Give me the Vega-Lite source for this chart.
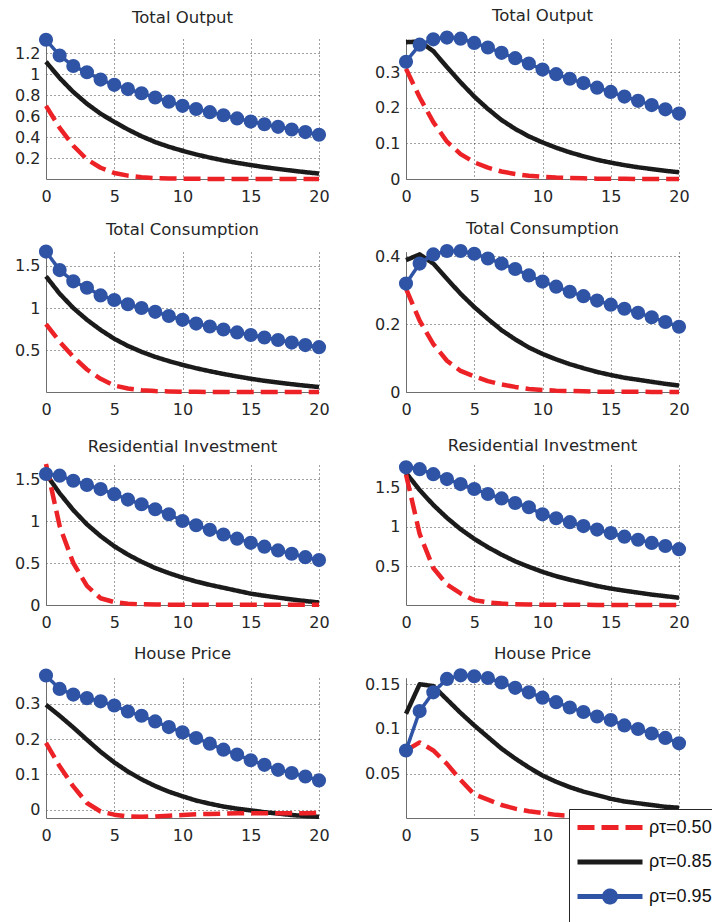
{
"$schema":"https://vega.github.io/schema/vega-lite/v6.json",
"background":"white",
"padding":{"left":14,"top":8,"right":0,"bottom":0},
"columns":2,
"spacing":{"row":73,"column":87},
"bounds":"flush",
"data":{"values":[
{"p":1,"s":"0.85","t":0,"v":1.12},{"p":1,"s":"0.85","t":1,"v":0.965},{"p":1,"s":"0.85","t":2,"v":0.832},{"p":1,"s":"0.85","t":3,"v":0.72},{"p":1,"s":"0.85","t":4,"v":0.625},{"p":1,"s":"0.85","t":5,"v":0.547},{"p":1,"s":"0.85","t":6,"v":0.475},{"p":1,"s":"0.85","t":7,"v":0.41},{"p":1,"s":"0.85","t":8,"v":0.355},{"p":1,"s":"0.85","t":9,"v":0.31},{"p":1,"s":"0.85","t":10,"v":0.272},{"p":1,"s":"0.85","t":11,"v":0.237},{"p":1,"s":"0.85","t":12,"v":0.207},{"p":1,"s":"0.85","t":13,"v":0.18},{"p":1,"s":"0.85","t":14,"v":0.157},{"p":1,"s":"0.85","t":15,"v":0.136},{"p":1,"s":"0.85","t":16,"v":0.116},{"p":1,"s":"0.85","t":17,"v":0.099},{"p":1,"s":"0.85","t":18,"v":0.083},{"p":1,"s":"0.85","t":19,"v":0.068},{"p":1,"s":"0.85","t":20,"v":0.055},
{"p":1,"s":"0.50","t":0,"v":0.7},{"p":1,"s":"0.50","t":1,"v":0.49},{"p":1,"s":"0.50","t":2,"v":0.32},{"p":1,"s":"0.50","t":3,"v":0.19},{"p":1,"s":"0.50","t":4,"v":0.11},{"p":1,"s":"0.50","t":5,"v":0.06},{"p":1,"s":"0.50","t":6,"v":0.035},{"p":1,"s":"0.50","t":7,"v":0.02},{"p":1,"s":"0.50","t":8,"v":0.012},{"p":1,"s":"0.50","t":9,"v":0.008},{"p":1,"s":"0.50","t":10,"v":0.006},{"p":1,"s":"0.50","t":11,"v":0.005},{"p":1,"s":"0.50","t":12,"v":0.004},{"p":1,"s":"0.50","t":13,"v":0.004},{"p":1,"s":"0.50","t":14,"v":0.003},{"p":1,"s":"0.50","t":15,"v":0.003},{"p":1,"s":"0.50","t":16,"v":0.003},{"p":1,"s":"0.50","t":17,"v":0.003},{"p":1,"s":"0.50","t":18,"v":0.003},{"p":1,"s":"0.50","t":19,"v":0.003},{"p":1,"s":"0.50","t":20,"v":0.003},
{"p":1,"s":"0.95","t":0,"v":1.33},{"p":1,"s":"0.95","t":1,"v":1.18},{"p":1,"s":"0.95","t":2,"v":1.08},{"p":1,"s":"0.95","t":3,"v":1.02},{"p":1,"s":"0.95","t":4,"v":0.95},{"p":1,"s":"0.95","t":5,"v":0.9},{"p":1,"s":"0.95","t":6,"v":0.86},{"p":1,"s":"0.95","t":7,"v":0.82},{"p":1,"s":"0.95","t":8,"v":0.78},{"p":1,"s":"0.95","t":9,"v":0.74},{"p":1,"s":"0.95","t":10,"v":0.7},{"p":1,"s":"0.95","t":11,"v":0.67},{"p":1,"s":"0.95","t":12,"v":0.64},{"p":1,"s":"0.95","t":13,"v":0.61},{"p":1,"s":"0.95","t":14,"v":0.58},{"p":1,"s":"0.95","t":15,"v":0.55},{"p":1,"s":"0.95","t":16,"v":0.525},{"p":1,"s":"0.95","t":17,"v":0.5},{"p":1,"s":"0.95","t":18,"v":0.475},{"p":1,"s":"0.95","t":19,"v":0.45},{"p":1,"s":"0.95","t":20,"v":0.425},
{"p":2,"s":"0.85","t":0,"v":0.385},{"p":2,"s":"0.85","t":1,"v":0.387},{"p":2,"s":"0.85","t":2,"v":0.36},{"p":2,"s":"0.85","t":3,"v":0.315},{"p":2,"s":"0.85","t":4,"v":0.272},{"p":2,"s":"0.85","t":5,"v":0.232},{"p":2,"s":"0.85","t":6,"v":0.197},{"p":2,"s":"0.85","t":7,"v":0.166},{"p":2,"s":"0.85","t":8,"v":0.141},{"p":2,"s":"0.85","t":9,"v":0.12},{"p":2,"s":"0.85","t":10,"v":0.103},{"p":2,"s":"0.85","t":11,"v":0.088},{"p":2,"s":"0.85","t":12,"v":0.075},{"p":2,"s":"0.85","t":13,"v":0.064},{"p":2,"s":"0.85","t":14,"v":0.054},{"p":2,"s":"0.85","t":15,"v":0.046},{"p":2,"s":"0.85","t":16,"v":0.039},{"p":2,"s":"0.85","t":17,"v":0.033},{"p":2,"s":"0.85","t":18,"v":0.028},{"p":2,"s":"0.85","t":19,"v":0.023},{"p":2,"s":"0.85","t":20,"v":0.019},
{"p":2,"s":"0.50","t":0,"v":0.31},{"p":2,"s":"0.50","t":1,"v":0.23},{"p":2,"s":"0.50","t":2,"v":0.16},{"p":2,"s":"0.50","t":3,"v":0.105},{"p":2,"s":"0.50","t":4,"v":0.07},{"p":2,"s":"0.50","t":5,"v":0.047},{"p":2,"s":"0.50","t":6,"v":0.032},{"p":2,"s":"0.50","t":7,"v":0.021},{"p":2,"s":"0.50","t":8,"v":0.014},{"p":2,"s":"0.50","t":9,"v":0.009},{"p":2,"s":"0.50","t":10,"v":0.006},{"p":2,"s":"0.50","t":11,"v":0.004},{"p":2,"s":"0.50","t":12,"v":0.003},{"p":2,"s":"0.50","t":13,"v":0.002},{"p":2,"s":"0.50","t":14,"v":0.001},{"p":2,"s":"0.50","t":15,"v":0.001},{"p":2,"s":"0.50","t":16,"v":0.001},{"p":2,"s":"0.50","t":17,"v":0},{"p":2,"s":"0.50","t":18,"v":0},{"p":2,"s":"0.50","t":19,"v":0},{"p":2,"s":"0.50","t":20,"v":0},
{"p":2,"s":"0.95","t":0,"v":0.33},{"p":2,"s":"0.95","t":1,"v":0.378},{"p":2,"s":"0.95","t":2,"v":0.393},{"p":2,"s":"0.95","t":3,"v":0.398},{"p":2,"s":"0.95","t":4,"v":0.395},{"p":2,"s":"0.95","t":5,"v":0.383},{"p":2,"s":"0.95","t":6,"v":0.37},{"p":2,"s":"0.95","t":7,"v":0.355},{"p":2,"s":"0.95","t":8,"v":0.34},{"p":2,"s":"0.95","t":9,"v":0.325},{"p":2,"s":"0.95","t":10,"v":0.308},{"p":2,"s":"0.95","t":11,"v":0.295},{"p":2,"s":"0.95","t":12,"v":0.282},{"p":2,"s":"0.95","t":13,"v":0.27},{"p":2,"s":"0.95","t":14,"v":0.257},{"p":2,"s":"0.95","t":15,"v":0.245},{"p":2,"s":"0.95","t":16,"v":0.232},{"p":2,"s":"0.95","t":17,"v":0.22},{"p":2,"s":"0.95","t":18,"v":0.208},{"p":2,"s":"0.95","t":19,"v":0.196},{"p":2,"s":"0.95","t":20,"v":0.184},
{"p":3,"s":"0.85","t":0,"v":1.376},{"p":3,"s":"0.85","t":1,"v":1.17},{"p":3,"s":"0.85","t":2,"v":1.0},{"p":3,"s":"0.85","t":3,"v":0.86},{"p":3,"s":"0.85","t":4,"v":0.74},{"p":3,"s":"0.85","t":5,"v":0.635},{"p":3,"s":"0.85","t":6,"v":0.55},{"p":3,"s":"0.85","t":7,"v":0.48},{"p":3,"s":"0.85","t":8,"v":0.42},{"p":3,"s":"0.85","t":9,"v":0.37},{"p":3,"s":"0.85","t":10,"v":0.325},{"p":3,"s":"0.85","t":11,"v":0.285},{"p":3,"s":"0.85","t":12,"v":0.25},{"p":3,"s":"0.85","t":13,"v":0.217},{"p":3,"s":"0.85","t":14,"v":0.188},{"p":3,"s":"0.85","t":15,"v":0.16},{"p":3,"s":"0.85","t":16,"v":0.136},{"p":3,"s":"0.85","t":17,"v":0.115},{"p":3,"s":"0.85","t":18,"v":0.096},{"p":3,"s":"0.85","t":19,"v":0.078},{"p":3,"s":"0.85","t":20,"v":0.062},
{"p":3,"s":"0.50","t":0,"v":0.81},{"p":3,"s":"0.50","t":1,"v":0.6},{"p":3,"s":"0.50","t":2,"v":0.42},{"p":3,"s":"0.50","t":3,"v":0.27},{"p":3,"s":"0.50","t":4,"v":0.16},{"p":3,"s":"0.50","t":5,"v":0.08},{"p":3,"s":"0.50","t":6,"v":0.045},{"p":3,"s":"0.50","t":7,"v":0.025},{"p":3,"s":"0.50","t":8,"v":0.014},{"p":3,"s":"0.50","t":9,"v":0.009},{"p":3,"s":"0.50","t":10,"v":0.006},{"p":3,"s":"0.50","t":11,"v":0.005},{"p":3,"s":"0.50","t":12,"v":0.004},{"p":3,"s":"0.50","t":13,"v":0.004},{"p":3,"s":"0.50","t":14,"v":0.003},{"p":3,"s":"0.50","t":15,"v":0.003},{"p":3,"s":"0.50","t":16,"v":0.003},{"p":3,"s":"0.50","t":17,"v":0.003},{"p":3,"s":"0.50","t":18,"v":0.003},{"p":3,"s":"0.50","t":19,"v":0.003},{"p":3,"s":"0.50","t":20,"v":0.003},
{"p":3,"s":"0.95","t":0,"v":1.67},{"p":3,"s":"0.95","t":1,"v":1.45},{"p":3,"s":"0.95","t":2,"v":1.317},{"p":3,"s":"0.95","t":3,"v":1.24},{"p":3,"s":"0.95","t":4,"v":1.15},{"p":3,"s":"0.95","t":5,"v":1.095},{"p":3,"s":"0.95","t":6,"v":1.045},{"p":3,"s":"0.95","t":7,"v":1.0},{"p":3,"s":"0.95","t":8,"v":0.955},{"p":3,"s":"0.95","t":9,"v":0.905},{"p":3,"s":"0.95","t":10,"v":0.86},{"p":3,"s":"0.95","t":11,"v":0.815},{"p":3,"s":"0.95","t":12,"v":0.78},{"p":3,"s":"0.95","t":13,"v":0.745},{"p":3,"s":"0.95","t":14,"v":0.71},{"p":3,"s":"0.95","t":15,"v":0.68},{"p":3,"s":"0.95","t":16,"v":0.65},{"p":3,"s":"0.95","t":17,"v":0.62},{"p":3,"s":"0.95","t":18,"v":0.59},{"p":3,"s":"0.95","t":19,"v":0.56},{"p":3,"s":"0.95","t":20,"v":0.535},
{"p":4,"s":"0.85","t":0,"v":0.388},{"p":4,"s":"0.85","t":1,"v":0.405},{"p":4,"s":"0.85","t":2,"v":0.378},{"p":4,"s":"0.85","t":3,"v":0.333},{"p":4,"s":"0.85","t":4,"v":0.289},{"p":4,"s":"0.85","t":5,"v":0.25},{"p":4,"s":"0.85","t":6,"v":0.215},{"p":4,"s":"0.85","t":7,"v":0.182},{"p":4,"s":"0.85","t":8,"v":0.155},{"p":4,"s":"0.85","t":9,"v":0.131},{"p":4,"s":"0.85","t":10,"v":0.112},{"p":4,"s":"0.85","t":11,"v":0.096},{"p":4,"s":"0.85","t":12,"v":0.082},{"p":4,"s":"0.85","t":13,"v":0.07},{"p":4,"s":"0.85","t":14,"v":0.059},{"p":4,"s":"0.85","t":15,"v":0.05},{"p":4,"s":"0.85","t":16,"v":0.042},{"p":4,"s":"0.85","t":17,"v":0.036},{"p":4,"s":"0.85","t":18,"v":0.03},{"p":4,"s":"0.85","t":19,"v":0.024},{"p":4,"s":"0.85","t":20,"v":0.019},
{"p":4,"s":"0.50","t":0,"v":0.304},{"p":4,"s":"0.50","t":1,"v":0.21},{"p":4,"s":"0.50","t":2,"v":0.141},{"p":4,"s":"0.50","t":3,"v":0.092},{"p":4,"s":"0.50","t":4,"v":0.062},{"p":4,"s":"0.50","t":5,"v":0.046},{"p":4,"s":"0.50","t":6,"v":0.032},{"p":4,"s":"0.50","t":7,"v":0.022},{"p":4,"s":"0.50","t":8,"v":0.015},{"p":4,"s":"0.50","t":9,"v":0.009},{"p":4,"s":"0.50","t":10,"v":0.006},{"p":4,"s":"0.50","t":11,"v":0.004},{"p":4,"s":"0.50","t":12,"v":0.003},{"p":4,"s":"0.50","t":13,"v":0.002},{"p":4,"s":"0.50","t":14,"v":0.001},{"p":4,"s":"0.50","t":15,"v":0.001},{"p":4,"s":"0.50","t":16,"v":0.001},{"p":4,"s":"0.50","t":17,"v":0.001},{"p":4,"s":"0.50","t":18,"v":0},{"p":4,"s":"0.50","t":19,"v":0},{"p":4,"s":"0.50","t":20,"v":0},
{"p":4,"s":"0.95","t":0,"v":0.319},{"p":4,"s":"0.95","t":1,"v":0.378},{"p":4,"s":"0.95","t":2,"v":0.405},{"p":4,"s":"0.95","t":3,"v":0.415},{"p":4,"s":"0.95","t":4,"v":0.415},{"p":4,"s":"0.95","t":5,"v":0.407},{"p":4,"s":"0.95","t":6,"v":0.393},{"p":4,"s":"0.95","t":7,"v":0.378},{"p":4,"s":"0.95","t":8,"v":0.362},{"p":4,"s":"0.95","t":9,"v":0.343},{"p":4,"s":"0.95","t":10,"v":0.325},{"p":4,"s":"0.95","t":11,"v":0.31},{"p":4,"s":"0.95","t":12,"v":0.295},{"p":4,"s":"0.95","t":13,"v":0.282},{"p":4,"s":"0.95","t":14,"v":0.269},{"p":4,"s":"0.95","t":15,"v":0.257},{"p":4,"s":"0.95","t":16,"v":0.245},{"p":4,"s":"0.95","t":17,"v":0.233},{"p":4,"s":"0.95","t":18,"v":0.22},{"p":4,"s":"0.95","t":19,"v":0.206},{"p":4,"s":"0.95","t":20,"v":0.192},
{"p":5,"s":"0.85","t":0,"v":1.56},{"p":5,"s":"0.85","t":1,"v":1.33},{"p":5,"s":"0.85","t":2,"v":1.13},{"p":5,"s":"0.85","t":3,"v":0.96},{"p":5,"s":"0.85","t":4,"v":0.82},{"p":5,"s":"0.85","t":5,"v":0.7},{"p":5,"s":"0.85","t":6,"v":0.6},{"p":5,"s":"0.85","t":7,"v":0.515},{"p":5,"s":"0.85","t":8,"v":0.44},{"p":5,"s":"0.85","t":9,"v":0.38},{"p":5,"s":"0.85","t":10,"v":0.326},{"p":5,"s":"0.85","t":11,"v":0.28},{"p":5,"s":"0.85","t":12,"v":0.24},{"p":5,"s":"0.85","t":13,"v":0.205},{"p":5,"s":"0.85","t":14,"v":0.17},{"p":5,"s":"0.85","t":15,"v":0.135},{"p":5,"s":"0.85","t":16,"v":0.11},{"p":5,"s":"0.85","t":17,"v":0.088},{"p":5,"s":"0.85","t":18,"v":0.066},{"p":5,"s":"0.85","t":19,"v":0.047},{"p":5,"s":"0.85","t":20,"v":0.03},
{"p":5,"s":"0.50","t":0,"v":1.68},{"p":5,"s":"0.50","t":1,"v":0.94},{"p":5,"s":"0.50","t":2,"v":0.5},{"p":5,"s":"0.50","t":3,"v":0.227},{"p":5,"s":"0.50","t":4,"v":0.08},{"p":5,"s":"0.50","t":5,"v":0.035},{"p":5,"s":"0.50","t":6,"v":0.015},{"p":5,"s":"0.50","t":7,"v":0.008},{"p":5,"s":"0.50","t":8,"v":0.005},{"p":5,"s":"0.50","t":9,"v":0.004},{"p":5,"s":"0.50","t":10,"v":0.003},{"p":5,"s":"0.50","t":11,"v":0.003},{"p":5,"s":"0.50","t":12,"v":0.002},{"p":5,"s":"0.50","t":13,"v":0.002},{"p":5,"s":"0.50","t":14,"v":0.002},{"p":5,"s":"0.50","t":15,"v":0.002},{"p":5,"s":"0.50","t":16,"v":0.002},{"p":5,"s":"0.50","t":17,"v":0.002},{"p":5,"s":"0.50","t":18,"v":0.002},{"p":5,"s":"0.50","t":19,"v":0.002},{"p":5,"s":"0.50","t":20,"v":0.002},
{"p":5,"s":"0.95","t":0,"v":1.56},{"p":5,"s":"0.95","t":1,"v":1.54},{"p":5,"s":"0.95","t":2,"v":1.48},{"p":5,"s":"0.95","t":3,"v":1.43},{"p":5,"s":"0.95","t":4,"v":1.38},{"p":5,"s":"0.95","t":5,"v":1.32},{"p":5,"s":"0.95","t":6,"v":1.255},{"p":5,"s":"0.95","t":7,"v":1.2},{"p":5,"s":"0.95","t":8,"v":1.14},{"p":5,"s":"0.95","t":9,"v":1.08},{"p":5,"s":"0.95","t":10,"v":1.0},{"p":5,"s":"0.95","t":11,"v":0.95},{"p":5,"s":"0.95","t":12,"v":0.895},{"p":5,"s":"0.95","t":13,"v":0.84},{"p":5,"s":"0.95","t":14,"v":0.79},{"p":5,"s":"0.95","t":15,"v":0.74},{"p":5,"s":"0.95","t":16,"v":0.695},{"p":5,"s":"0.95","t":17,"v":0.65},{"p":5,"s":"0.95","t":18,"v":0.61},{"p":5,"s":"0.95","t":19,"v":0.57},{"p":5,"s":"0.95","t":20,"v":0.535},
{"p":6,"s":"0.85","t":0,"v":1.69},{"p":6,"s":"0.85","t":1,"v":1.47},{"p":6,"s":"0.85","t":2,"v":1.28},{"p":6,"s":"0.85","t":3,"v":1.115},{"p":6,"s":"0.85","t":4,"v":0.97},{"p":6,"s":"0.85","t":5,"v":0.847},{"p":6,"s":"0.85","t":6,"v":0.74},{"p":6,"s":"0.85","t":7,"v":0.645},{"p":6,"s":"0.85","t":8,"v":0.56},{"p":6,"s":"0.85","t":9,"v":0.49},{"p":6,"s":"0.85","t":10,"v":0.425},{"p":6,"s":"0.85","t":11,"v":0.37},{"p":6,"s":"0.85","t":12,"v":0.325},{"p":6,"s":"0.85","t":13,"v":0.285},{"p":6,"s":"0.85","t":14,"v":0.245},{"p":6,"s":"0.85","t":15,"v":0.212},{"p":6,"s":"0.85","t":16,"v":0.185},{"p":6,"s":"0.85","t":17,"v":0.16},{"p":6,"s":"0.85","t":18,"v":0.135},{"p":6,"s":"0.85","t":19,"v":0.115},{"p":6,"s":"0.85","t":20,"v":0.095},
{"p":6,"s":"0.50","t":0,"v":1.67},{"p":6,"s":"0.50","t":1,"v":0.91},{"p":6,"s":"0.50","t":2,"v":0.474},{"p":6,"s":"0.50","t":3,"v":0.263},{"p":6,"s":"0.50","t":4,"v":0.149},{"p":6,"s":"0.50","t":5,"v":0.064},{"p":6,"s":"0.50","t":6,"v":0.035},{"p":6,"s":"0.50","t":7,"v":0.02},{"p":6,"s":"0.50","t":8,"v":0.012},{"p":6,"s":"0.50","t":9,"v":0.008},{"p":6,"s":"0.50","t":10,"v":0.006},{"p":6,"s":"0.50","t":11,"v":0.005},{"p":6,"s":"0.50","t":12,"v":0.004},{"p":6,"s":"0.50","t":13,"v":0.004},{"p":6,"s":"0.50","t":14,"v":0.003},{"p":6,"s":"0.50","t":15,"v":0.003},{"p":6,"s":"0.50","t":16,"v":0.003},{"p":6,"s":"0.50","t":17,"v":0.003},{"p":6,"s":"0.50","t":18,"v":0.003},{"p":6,"s":"0.50","t":19,"v":0.003},{"p":6,"s":"0.50","t":20,"v":0.003},
{"p":6,"s":"0.95","t":0,"v":1.76},{"p":6,"s":"0.95","t":1,"v":1.737},{"p":6,"s":"0.95","t":2,"v":1.673},{"p":6,"s":"0.95","t":3,"v":1.61},{"p":6,"s":"0.95","t":4,"v":1.546},{"p":6,"s":"0.95","t":5,"v":1.483},{"p":6,"s":"0.95","t":6,"v":1.42},{"p":6,"s":"0.95","t":7,"v":1.363},{"p":6,"s":"0.95","t":8,"v":1.305},{"p":6,"s":"0.95","t":9,"v":1.25},{"p":6,"s":"0.95","t":10,"v":1.16},{"p":6,"s":"0.95","t":11,"v":1.11},{"p":6,"s":"0.95","t":12,"v":1.06},{"p":6,"s":"0.95","t":13,"v":1.01},{"p":6,"s":"0.95","t":14,"v":0.965},{"p":6,"s":"0.95","t":15,"v":0.92},{"p":6,"s":"0.95","t":16,"v":0.875},{"p":6,"s":"0.95","t":17,"v":0.835},{"p":6,"s":"0.95","t":18,"v":0.795},{"p":6,"s":"0.95","t":19,"v":0.755},{"p":6,"s":"0.95","t":20,"v":0.715},
{"p":7,"s":"0.85","t":0,"v":0.297},{"p":7,"s":"0.85","t":1,"v":0.266},{"p":7,"s":"0.85","t":2,"v":0.233},{"p":7,"s":"0.85","t":3,"v":0.198},{"p":7,"s":"0.85","t":4,"v":0.164},{"p":7,"s":"0.85","t":5,"v":0.134},{"p":7,"s":"0.85","t":6,"v":0.108},{"p":7,"s":"0.85","t":7,"v":0.086},{"p":7,"s":"0.85","t":8,"v":0.067},{"p":7,"s":"0.85","t":9,"v":0.051},{"p":7,"s":"0.85","t":10,"v":0.038},{"p":7,"s":"0.85","t":11,"v":0.026},{"p":7,"s":"0.85","t":12,"v":0.017},{"p":7,"s":"0.85","t":13,"v":0.009},{"p":7,"s":"0.85","t":14,"v":0.003},{"p":7,"s":"0.85","t":15,"v":-0.002},{"p":7,"s":"0.85","t":16,"v":-0.007},{"p":7,"s":"0.85","t":17,"v":-0.011},{"p":7,"s":"0.85","t":18,"v":-0.015},{"p":7,"s":"0.85","t":19,"v":-0.018},{"p":7,"s":"0.85","t":20,"v":-0.02},
{"p":7,"s":"0.50","t":0,"v":0.189},{"p":7,"s":"0.50","t":1,"v":0.123},{"p":7,"s":"0.50","t":2,"v":0.066},{"p":7,"s":"0.50","t":3,"v":0.019},{"p":7,"s":"0.50","t":4,"v":-0.005},{"p":7,"s":"0.50","t":5,"v":-0.014},{"p":7,"s":"0.50","t":6,"v":-0.019},{"p":7,"s":"0.50","t":7,"v":-0.02},{"p":7,"s":"0.50","t":8,"v":-0.019},{"p":7,"s":"0.50","t":9,"v":-0.017},{"p":7,"s":"0.50","t":10,"v":-0.015},{"p":7,"s":"0.50","t":11,"v":-0.013},{"p":7,"s":"0.50","t":12,"v":-0.012},{"p":7,"s":"0.50","t":13,"v":-0.011},{"p":7,"s":"0.50","t":14,"v":-0.01},{"p":7,"s":"0.50","t":15,"v":-0.01},{"p":7,"s":"0.50","t":16,"v":-0.01},{"p":7,"s":"0.50","t":17,"v":-0.01},{"p":7,"s":"0.50","t":18,"v":-0.01},{"p":7,"s":"0.50","t":19,"v":-0.01},{"p":7,"s":"0.50","t":20,"v":-0.009},
{"p":7,"s":"0.95","t":0,"v":0.38},{"p":7,"s":"0.95","t":1,"v":0.342},{"p":7,"s":"0.95","t":2,"v":0.326},{"p":7,"s":"0.95","t":3,"v":0.316},{"p":7,"s":"0.95","t":4,"v":0.307},{"p":7,"s":"0.95","t":5,"v":0.295},{"p":7,"s":"0.95","t":6,"v":0.278},{"p":7,"s":"0.95","t":7,"v":0.266},{"p":7,"s":"0.95","t":8,"v":0.25},{"p":7,"s":"0.95","t":9,"v":0.234},{"p":7,"s":"0.95","t":10,"v":0.219},{"p":7,"s":"0.95","t":11,"v":0.203},{"p":7,"s":"0.95","t":12,"v":0.187},{"p":7,"s":"0.95","t":13,"v":0.17},{"p":7,"s":"0.95","t":14,"v":0.156},{"p":7,"s":"0.95","t":15,"v":0.14},{"p":7,"s":"0.95","t":16,"v":0.127},{"p":7,"s":"0.95","t":17,"v":0.113},{"p":7,"s":"0.95","t":18,"v":0.104},{"p":7,"s":"0.95","t":19,"v":0.094},{"p":7,"s":"0.95","t":20,"v":0.083},
{"p":8,"s":"0.85","t":0,"v":0.117},{"p":8,"s":"0.85","t":1,"v":0.15},{"p":8,"s":"0.85","t":2,"v":0.148},{"p":8,"s":"0.85","t":3,"v":0.133},{"p":8,"s":"0.85","t":4,"v":0.118},{"p":8,"s":"0.85","t":5,"v":0.104},{"p":8,"s":"0.85","t":6,"v":0.091},{"p":8,"s":"0.85","t":7,"v":0.078},{"p":8,"s":"0.85","t":8,"v":0.067},{"p":8,"s":"0.85","t":9,"v":0.057},{"p":8,"s":"0.85","t":10,"v":0.048},{"p":8,"s":"0.85","t":11,"v":0.041},{"p":8,"s":"0.85","t":12,"v":0.035},{"p":8,"s":"0.85","t":13,"v":0.03},{"p":8,"s":"0.85","t":14,"v":0.026},{"p":8,"s":"0.85","t":15,"v":0.022},{"p":8,"s":"0.85","t":16,"v":0.019},{"p":8,"s":"0.85","t":17,"v":0.017},{"p":8,"s":"0.85","t":18,"v":0.015},{"p":8,"s":"0.85","t":19,"v":0.013},{"p":8,"s":"0.85","t":20,"v":0.012},
{"p":8,"s":"0.50","t":0,"v":0.076},{"p":8,"s":"0.50","t":1,"v":0.085},{"p":8,"s":"0.50","t":2,"v":0.076},{"p":8,"s":"0.50","t":3,"v":0.061},{"p":8,"s":"0.50","t":4,"v":0.043},{"p":8,"s":"0.50","t":5,"v":0.027},{"p":8,"s":"0.50","t":6,"v":0.021},{"p":8,"s":"0.50","t":7,"v":0.015},{"p":8,"s":"0.50","t":8,"v":0.011},{"p":8,"s":"0.50","t":9,"v":0.008},{"p":8,"s":"0.50","t":10,"v":0.006},{"p":8,"s":"0.50","t":11,"v":0.004},{"p":8,"s":"0.50","t":12,"v":0.003},{"p":8,"s":"0.50","t":13,"v":0.002},{"p":8,"s":"0.50","t":14,"v":0.002},{"p":8,"s":"0.50","t":15,"v":0.001},{"p":8,"s":"0.50","t":16,"v":0.001},{"p":8,"s":"0.50","t":17,"v":0.001},{"p":8,"s":"0.50","t":18,"v":0.001},{"p":8,"s":"0.50","t":19,"v":0.001},{"p":8,"s":"0.50","t":20,"v":0.001},
{"p":8,"s":"0.95","t":0,"v":0.076},{"p":8,"s":"0.95","t":1,"v":0.12},{"p":8,"s":"0.95","t":2,"v":0.141},{"p":8,"s":"0.95","t":3,"v":0.156},{"p":8,"s":"0.95","t":4,"v":0.16},{"p":8,"s":"0.95","t":5,"v":0.159},{"p":8,"s":"0.95","t":6,"v":0.157},{"p":8,"s":"0.95","t":7,"v":0.152},{"p":8,"s":"0.95","t":8,"v":0.146},{"p":8,"s":"0.95","t":9,"v":0.141},{"p":8,"s":"0.95","t":10,"v":0.135},{"p":8,"s":"0.95","t":11,"v":0.13},{"p":8,"s":"0.95","t":12,"v":0.124},{"p":8,"s":"0.95","t":13,"v":0.119},{"p":8,"s":"0.95","t":14,"v":0.114},{"p":8,"s":"0.95","t":15,"v":0.11},{"p":8,"s":"0.95","t":16,"v":0.104},{"p":8,"s":"0.95","t":17,"v":0.1},{"p":8,"s":"0.95","t":18,"v":0.095},{"p":8,"s":"0.95","t":19,"v":0.09},{"p":8,"s":"0.95","t":20,"v":0.084}
]},
"concat":[
{"title":"Total Output","width":273,"height":140,"transform":[{"filter":"datum.p==1"}],
"encoding":{"x":{"field":"t","type":"quantitative","title":null,"scale":{"domain":[0,20],"nice":false,"zero":false},"axis":{"values":[0,5,10,15,20],"format":"d"}},
"y":{"field":"v","type":"quantitative","title":null,"scale":{"domain":[0.003,1.337],"nice":false,"zero":false},"axis":{"values":[0.2,0.4,0.6,0.8,1,1.2],"format":"~g"}}},
"layer":[
{"transform":[{"filter":"datum.s=='0.85'"}],"mark":{"type":"line","strokeWidth":4.5},"encoding":{"color":{"field":"s","type":"nominal","scale":{"domain":["0.50","0.85","0.95"],"range":["#ec2227","#1b1b1b","#2f54a5"]},"legend":{"orient":"none","legendX":523,"legendY":770,"title":"\u2003\u2003\u2003\u2003","titleOrient":"bottom","titleFontSize":40,"titlePadding":0,"titleLimit":400,"padding":6,"fillColor":"white","strokeColor":"#262626","symbolType":"M-1,0H5.5","symbolSize":400,"symbolStrokeWidth":5,"labelFont":"Liberation Sans","labelFontSize":18,"labelColor":"#111","labelOffset":49,"rowPadding":12.5,"labelExpr":"'ρτ=' + datum.label"}},"strokeDash":{"field":"s","type":"nominal","scale":{"domain":["0.50","0.85","0.95"],"range":[[17,7],[1,0],[1,0]]}}}},
{"transform":[{"filter":"datum.s=='0.50'"}],"mark":{"type":"line","strokeWidth":4.5},"encoding":{"color":{"field":"s","type":"nominal"},"strokeDash":{"field":"s","type":"nominal"}}},
{"transform":[{"filter":"datum.s=='0.95'"}],"mark":{"type":"line","strokeWidth":3.5},"encoding":{"color":{"field":"s","type":"nominal"},"strokeDash":{"field":"s","type":"nominal"}}},
{"transform":[{"filter":"datum.s=='0.95'"}],"mark":{"type":"point","filled":true,"size":200,"color":"#2f54a5","opacity":1}},
{"transform":[{"filter":"datum.t < 0"}],"mark":{"type":"point","filled":true,"opacity":1},"encoding":{"color":{"field":"s","type":"nominal"},"strokeDash":{"field":"s","type":"nominal"},"shape":{"field":"s","type":"nominal","scale":{"domain":["0.50","0.85","0.95"],"range":["M-1,0H5.5","M-1,0H5.5","M-1,0H5.5M1.7,0A0.55,0.55,0,1,1,2.8,0A0.55,0.55,0,1,1,1.7,0Z"]}}}}
]},
{"title":"Total Output","width":273,"height":140,"transform":[{"filter":"datum.p==2"}],
"encoding":{"x":{"field":"t","type":"quantitative","title":null,"scale":{"domain":[0,20],"nice":false,"zero":false},"axis":{"values":[0,5,10,15,20],"format":"d"}},
"y":{"field":"v","type":"quantitative","title":null,"scale":{"domain":[0,0.394],"nice":false,"zero":false},"axis":{"values":[0,0.1,0.2,0.3],"format":"~g"}}},
"layer":[
{"transform":[{"filter":"datum.s=='0.85'"}],"mark":{"type":"line","strokeWidth":4.5},"encoding":{"color":{"field":"s","type":"nominal"},"strokeDash":{"field":"s","type":"nominal"}}},
{"transform":[{"filter":"datum.s=='0.50'"}],"mark":{"type":"line","strokeWidth":4.5},"encoding":{"color":{"field":"s","type":"nominal"},"strokeDash":{"field":"s","type":"nominal"}}},
{"transform":[{"filter":"datum.s=='0.95'"}],"mark":{"type":"line","strokeWidth":3.5},"encoding":{"color":{"field":"s","type":"nominal"},"strokeDash":{"field":"s","type":"nominal"}}},
{"transform":[{"filter":"datum.s=='0.95'"}],"mark":{"type":"point","filled":true,"size":200,"color":"#2f54a5","opacity":1}}
]},
{"title":"Total Consumption","width":273,"height":140,"transform":[{"filter":"datum.p==3"}],
"encoding":{"x":{"field":"t","type":"quantitative","title":null,"scale":{"domain":[0,20],"nice":false,"zero":false},"axis":{"values":[0,5,10,15,20],"format":"d"}},
"y":{"field":"v","type":"quantitative","title":null,"scale":{"domain":[0.003,1.665],"nice":false,"zero":false},"axis":{"values":[0.5,1,1.5],"format":"~g"}}},
"layer":[
{"transform":[{"filter":"datum.s=='0.85'"}],"mark":{"type":"line","strokeWidth":4.5},"encoding":{"color":{"field":"s","type":"nominal"},"strokeDash":{"field":"s","type":"nominal"}}},
{"transform":[{"filter":"datum.s=='0.50'"}],"mark":{"type":"line","strokeWidth":4.5},"encoding":{"color":{"field":"s","type":"nominal"},"strokeDash":{"field":"s","type":"nominal"}}},
{"transform":[{"filter":"datum.s=='0.95'"}],"mark":{"type":"line","strokeWidth":3.5},"encoding":{"color":{"field":"s","type":"nominal"},"strokeDash":{"field":"s","type":"nominal"}}},
{"transform":[{"filter":"datum.s=='0.95'"}],"mark":{"type":"point","filled":true,"size":200,"color":"#2f54a5","opacity":1}}
]},
{"title":"Total Consumption","width":273,"height":140,"transform":[{"filter":"datum.p==4"}],
"encoding":{"x":{"field":"t","type":"quantitative","title":null,"scale":{"domain":[0,20],"nice":false,"zero":false},"axis":{"values":[0,5,10,15,20],"format":"d"}},
"y":{"field":"v","type":"quantitative","title":null,"scale":{"domain":[0,0.412],"nice":false,"zero":false},"axis":{"values":[0,0.2,0.4],"format":"~g"}}},
"layer":[
{"transform":[{"filter":"datum.s=='0.85'"}],"mark":{"type":"line","strokeWidth":4.5},"encoding":{"color":{"field":"s","type":"nominal"},"strokeDash":{"field":"s","type":"nominal"}}},
{"transform":[{"filter":"datum.s=='0.50'"}],"mark":{"type":"line","strokeWidth":4.5},"encoding":{"color":{"field":"s","type":"nominal"},"strokeDash":{"field":"s","type":"nominal"}}},
{"transform":[{"filter":"datum.s=='0.95'"}],"mark":{"type":"line","strokeWidth":3.5},"encoding":{"color":{"field":"s","type":"nominal"},"strokeDash":{"field":"s","type":"nominal"}}},
{"transform":[{"filter":"datum.s=='0.95'"}],"mark":{"type":"point","filled":true,"size":200,"color":"#2f54a5","opacity":1}}
]},
{"title":"Residential Investment","width":273,"height":140,"transform":[{"filter":"datum.p==5"}],
"encoding":{"x":{"field":"t","type":"quantitative","title":null,"scale":{"domain":[0,20],"nice":false,"zero":false},"axis":{"values":[0,5,10,15,20],"format":"d"}},
"y":{"field":"v","type":"quantitative","title":null,"scale":{"domain":[0,1.667],"nice":false,"zero":false},"axis":{"values":[0,0.5,1,1.5],"format":"~g"}}},
"layer":[
{"transform":[{"filter":"datum.s=='0.85'"}],"mark":{"type":"line","strokeWidth":4.5},"encoding":{"color":{"field":"s","type":"nominal"},"strokeDash":{"field":"s","type":"nominal"}}},
{"transform":[{"filter":"datum.s=='0.50'"}],"mark":{"type":"line","strokeWidth":4.5},"encoding":{"color":{"field":"s","type":"nominal"},"strokeDash":{"field":"s","type":"nominal"}}},
{"transform":[{"filter":"datum.s=='0.95'"}],"mark":{"type":"line","strokeWidth":3.5},"encoding":{"color":{"field":"s","type":"nominal"},"strokeDash":{"field":"s","type":"nominal"}}},
{"transform":[{"filter":"datum.s=='0.95'"}],"mark":{"type":"point","filled":true,"size":200,"color":"#2f54a5","opacity":1}}
]},
{"title":"Residential Investment","width":273,"height":140,"transform":[{"filter":"datum.p==6"}],
"encoding":{"x":{"field":"t","type":"quantitative","title":null,"scale":{"domain":[0,20],"nice":false,"zero":false},"axis":{"values":[0,5,10,15,20],"format":"d"}},
"y":{"field":"v","type":"quantitative","title":null,"scale":{"domain":[0.002,1.79],"nice":false,"zero":false},"axis":{"values":[0.5,1,1.5],"format":"~g"}}},
"layer":[
{"transform":[{"filter":"datum.s=='0.85'"}],"mark":{"type":"line","strokeWidth":4.5},"encoding":{"color":{"field":"s","type":"nominal"},"strokeDash":{"field":"s","type":"nominal"}}},
{"transform":[{"filter":"datum.s=='0.50'"}],"mark":{"type":"line","strokeWidth":4.5},"encoding":{"color":{"field":"s","type":"nominal"},"strokeDash":{"field":"s","type":"nominal"}}},
{"transform":[{"filter":"datum.s=='0.95'"}],"mark":{"type":"line","strokeWidth":3.5},"encoding":{"color":{"field":"s","type":"nominal"},"strokeDash":{"field":"s","type":"nominal"}}},
{"transform":[{"filter":"datum.s=='0.95'"}],"mark":{"type":"point","filled":true,"size":200,"color":"#2f54a5","opacity":1}}
]},
{"title":"House Price","width":273,"height":140,"transform":[{"filter":"datum.p==7"}],
"encoding":{"x":{"field":"t","type":"quantitative","title":null,"scale":{"domain":[0,20],"nice":false,"zero":false},"axis":{"values":[0,5,10,15,20],"format":"d"}},
"y":{"field":"v","type":"quantitative","title":null,"scale":{"domain":[-0.0235,0.373],"nice":false,"zero":false},"axis":{"values":[0,0.1,0.2,0.3],"format":"~g"}}},
"layer":[
{"transform":[{"filter":"datum.s=='0.85'"}],"mark":{"type":"line","strokeWidth":4.5},"encoding":{"color":{"field":"s","type":"nominal"},"strokeDash":{"field":"s","type":"nominal"}}},
{"transform":[{"filter":"datum.s=='0.50'"}],"mark":{"type":"line","strokeWidth":4.5},"encoding":{"color":{"field":"s","type":"nominal"},"strokeDash":{"field":"s","type":"nominal"}}},
{"transform":[{"filter":"datum.s=='0.95'"}],"mark":{"type":"line","strokeWidth":3.5},"encoding":{"color":{"field":"s","type":"nominal"},"strokeDash":{"field":"s","type":"nominal"}}},
{"transform":[{"filter":"datum.s=='0.95'"}],"mark":{"type":"point","filled":true,"size":200,"color":"#2f54a5","opacity":1}}
]},
{"title":"House Price","width":273,"height":140,"transform":[{"filter":"datum.p==8"}],
"encoding":{"x":{"field":"t","type":"quantitative","title":null,"scale":{"domain":[0,20],"nice":false,"zero":false},"axis":{"values":[0,5,10,15,20],"format":"d"}},
"y":{"field":"v","type":"quantitative","title":null,"scale":{"domain":[0.0005,0.157],"nice":false,"zero":false},"axis":{"values":[0.05,0.1,0.15],"format":"~g"}}},
"layer":[
{"transform":[{"filter":"datum.s=='0.85'"}],"mark":{"type":"line","strokeWidth":4.5},"encoding":{"color":{"field":"s","type":"nominal"},"strokeDash":{"field":"s","type":"nominal"}}},
{"transform":[{"filter":"datum.s=='0.50'"}],"mark":{"type":"line","strokeWidth":4.5},"encoding":{"color":{"field":"s","type":"nominal"},"strokeDash":{"field":"s","type":"nominal"}}},
{"transform":[{"filter":"datum.s=='0.95'"}],"mark":{"type":"line","strokeWidth":3.5},"encoding":{"color":{"field":"s","type":"nominal"},"strokeDash":{"field":"s","type":"nominal"}}},
{"transform":[{"filter":"datum.s=='0.95'"}],"mark":{"type":"point","filled":true,"size":200,"color":"#2f54a5","opacity":1}}
]}
],
"resolve":{"scale":{"color":"shared","strokeDash":"shared","shape":"shared"},"legend":{"color":"shared","strokeDash":"shared","shape":"shared"}},
"config":{
"font":"DejaVu Sans",
"view":{"stroke":null},
"axis":{"grid":true,"gridDash":[1,3],"gridColor":"#222222","gridOpacity":0.85,"gridWidth":1,"domainColor":"#6e6e6e","domainWidth":1,"ticks":false,"labelFont":"DejaVu Sans","labelFontSize":16,"labelColor":"#262626","labelFlush":false,"labelOverlap":false},
"axisX":{"labelPadding":9},
"axisY":{"labelPadding":6},
"title":{"font":"DejaVu Sans","fontSize":16.5,"fontWeight":"normal","color":"#262626","offset":6,"anchor":"middle"},
"line":{"strokeCap":"butt","strokeJoin":"round"}
}
}
